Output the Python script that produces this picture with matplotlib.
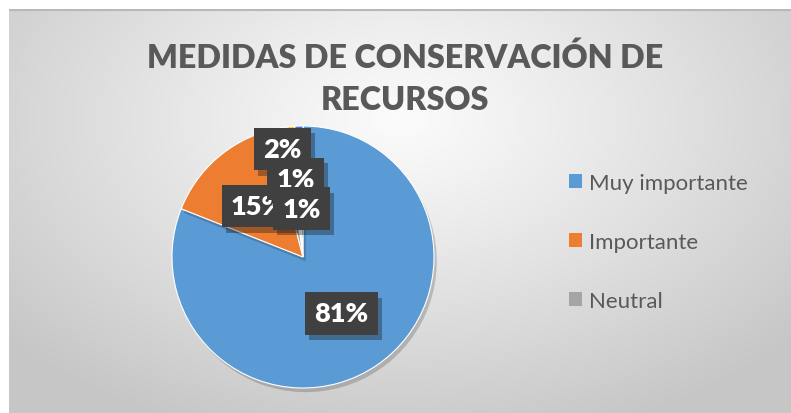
import numpy as np
import matplotlib
matplotlib.use("Agg")
import matplotlib.pyplot as plt
import matplotlib.patheffects as pe

categories = ["Muy importante", "Importante", "Neutral", "Poco importante", "Nada importante"]
values = [81, 15, 2, 1, 1]
legend_shown = 3
colors = ["#5B9BD5", "#ED7D31", "#A5A5A5", "#FFC000", "#4472C4"]
title = "MEDIDAS DE CONSERVACIÓN DE\nRECURSOS"
label_dist = [0.52, 0.52, 0.84, 0.60, 0.37]

W, H = 791, 414
fig = plt.figure(figsize=(W / 100, H / 100), dpi=100)
fig.patch.set_facecolor("white")
FONT = ["Lato", "DejaVu Sans"]

# background radial gradient
bg = fig.add_axes([9 / W, 0, 1 - 9 / W, 1 - 10 / H])
bg.axis("off")
ny, nx = 404, 782
yy, xx = np.mgrid[0:ny, 0:nx]
cx, cy = 390, 110
d = np.sqrt(((xx - cx) / 520.0) ** 2 + ((yy - cy) / 330.0) ** 2)
d = np.clip(d, 0, 1)
g = 0.985 - (0.985 - 0.78) * d ** 1.1
img = np.dstack([g, g, g])
bg.imshow(img, aspect="auto", extent=[0, 1, 0, 1], origin="upper")
bg.set_xlim(0, 1)
bg.set_ylim(0, 1)
bg.plot([0, 1], [0.997, 0.997], color="#b8b8b8", lw=1.5, transform=bg.transAxes)

# pie
cxp, cyp, r = 303, 258, 131
ax = fig.add_axes([(cxp - r) / W, (H - cyp - r) / H, 2 * r / W, 2 * r / H])
wedges, _ = ax.pie(values, colors=colors, startangle=90, counterclock=False,
                   radius=1, wedgeprops=dict(edgecolor="white", linewidth=0.8))
ax.set_xlim(-1, 1)
ax.set_ylim(-1, 1)
ax.set_aspect("equal")
ax.axis("off")
for w in wedges:
    w.set_path_effects([pe.withSimplePatchShadow(offset=(2, -3), shadow_rgbFace="#000000", alpha=0.18)])

for w, v, rd in zip(wedges, values, label_dist):
    th = np.deg2rad((w.theta1 + w.theta2) / 2)
    t = ax.text(rd * np.cos(th), rd * np.sin(th), f"{v}%", ha="center", va="center",
                color="white", fontsize=19.5, fontweight="heavy", family=FONT,
                bbox=dict(boxstyle="square,pad=0.34", facecolor="#404040", edgecolor="none"),
                zorder=5)
    t.get_bbox_patch().set_path_effects([pe.withSimplePatchShadow(offset=(3, -4), alpha=0.35)])

# title
fig.text(405 / W, 1 - 79 / H, title, ha="center", va="center", fontsize=23.2,
         fontweight="heavy", color="#595959", family=FONT, linespacing=1.55)

# legend
leg = fig.legend(wedges[:legend_shown], categories[:legend_shown], loc="upper left",
                 bbox_to_anchor=(558 / W, 1 - 163 / H), frameon=False,
                 prop=dict(family=FONT, size=16), labelcolor="#595959",
                 handlelength=0.6, handleheight=0.6, handletextpad=0.3,
                 labelspacing=1.75, borderpad=0)
for h in leg.legend_handles:
    h.set_path_effects([])
    h.set_edgecolor("none")

fig.savefig("out.png", dpi=100)
